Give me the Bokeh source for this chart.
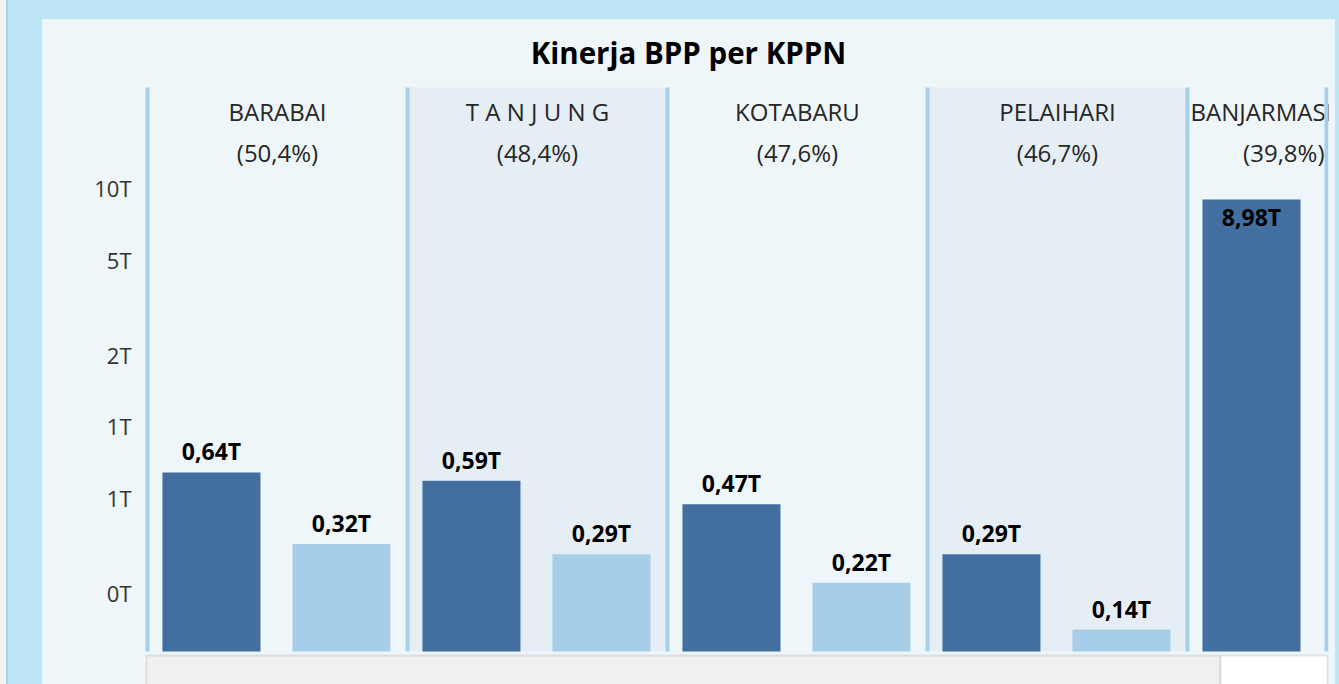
import math
from bokeh.plotting import figure
from bokeh.models import Range1d, FixedTicker, BoxAnnotation, Label, ColumnDataSource
from bokeh.core.properties import value
from bokeh.embed import file_html
from bokeh.resources import INLINE

# ---------------- data ----------------
kppn_names = ["BARABAI", "T A N J U N G", "KOTABARU", "PELAIHARI", "BANJARMASIN"]
kppn_pct = ["(50,4%)", "(48,4%)", "(47,6%)", "(46,7%)", "(39,8%)"]
pagu = [0.64, 0.59, 0.47, 0.29, 8.98]                  # dark bars (T)
realisasi = [0.32, 0.29, 0.22, 0.14, float("nan")]     # light bars (T); last one scrolled out of view
y_ticks = [0.2, 0.5, 1, 2, 5, 10]
y_tick_labels = ["0T", "1T", "1T", "2T", "5T", "10T"]
title_text = "Kinerja BPP per KPPN"

# ---------------- styles ----------------
DARK = "#426fa0"
LIGHT = "#a6cee8"
LINE = "#a6cfe8"
PANEL = "#eef6fa"
ALT = "#e6eef5"
FONT = "Open Sans"

W, H = 1293, 665
X_START, X_END = -0.0115, 4.5423     # pane units (one pane = 260 px)
X_CLIP = 4.5346                      # right edge of the visible (scrolled) area
# log axis: the frame spans the whole figure height; the pane area is between Y_BASE and Y_TOP
Y_START, Y_END = 0.08225, 51.20
Y_BASE, Y_TOP = 0.1132, 26.52

p = figure(width=W, height=H, output_backend="svg", toolbar_location=None,
           y_axis_type="log", x_axis_location=None,
           x_range=Range1d(X_START, X_END), y_range=Range1d(Y_START, Y_END),
           min_border_left=102, min_border_right=7, min_border_top=0, min_border_bottom=0)
p.background_fill_color = None
p.border_fill_color = None
p.styles = {"background-color": PANEL}
p.outline_line_color = None
p.grid.visible = False

ax = p.yaxis[0]
ax.ticker = FixedTicker(ticks=y_ticks)
ax.major_label_overrides = {t: l for t, l in zip(y_ticks, y_tick_labels)}
ax.axis_line_color = None
ax.major_tick_line_color = None
ax.minor_tick_line_color = None
ax.major_tick_out = 0
ax.major_label_standoff = 13
ax.major_label_text_font = FONT
ax.major_label_text_font_size = "22px"
ax.major_label_text_color = "#333333"

n = len(kppn_names)

# alternating pane backgrounds
for k in range(n):
    if k % 2 == 1:
        p.add_layout(BoxAnnotation(left=k, right=k + 1, top=Y_TOP, bottom=Y_BASE,
                                   fill_color=ALT, fill_alpha=1,
                                   line_color=None, level="underlay"))

# bars
src = ColumnDataSource(dict(
    xd=[k + 0.246 for k in range(n)], xl=[k + 0.746 for k in range(n)],
    pagu=pagu, real=realisasi))
p.vbar(x="xd", top="pagu", bottom=Y_BASE, width=0.377, source=src,
       fill_color=DARK, line_color=None)
p.vbar(x="xl", top="real", bottom=Y_BASE, width=0.377, source=src,
       fill_color=LIGHT, line_color=None)

# bar value labels
lx, ly, lt, lo = [], [], [], []
for k in range(n):
    for xo, v in ((0.246, pagu[k]), (0.746, realisasi[k])):
        if isinstance(v, float) and math.isnan(v):
            continue
        lx.append(k + xo)
        ly.append(v)
        lt.append(f"{v:.2f}".replace(".", ",") + "T")
        lo.append(18 if v > 5 else -21)
p.text(x=lx, y=ly, text=lt, y_offset=lo, text_align="center", text_baseline="middle",
       text_font=value(FONT), text_font_style="bold", text_font_size="23px", text_color="#000000")

# pane headers
HDR = dict(text_baseline="middle", text_font=value(FONT), text_font_size="24px",
           text_color="#262626")
for k in range(n):
    if k + 1 <= X_CLIP:
        p.text(x=[k + 0.5], y=[Y_TOP], text=[kppn_names[k]], y_offset=[24],
               text_align="center", **HDR)
        p.text(x=[k + 0.5], y=[Y_TOP], text=[kppn_pct[k]], y_offset=[65],
               text_align="center", **HDR)
    else:
        p.text(x=[k], y=[Y_TOP], text=[kppn_names[k]], x_offset=[3], y_offset=[24],
               text_align="left", **HDR)
        p.text(x=[X_CLIP], y=[Y_TOP], text=[kppn_pct[k]], x_offset=[-2], y_offset=[65],
               text_align="right", **HDR)

# pane separator lines
locs = list(range(n)) + [X_CLIP]
p.segment(x0=locs, x1=locs, y0=[Y_BASE] * len(locs), y1=[Y_TOP] * len(locs),
          line_color=LINE, line_width=4)

# title (screen units are relative to the frame's left / bottom edge)
p.add_layout(Label(x=688 - 144, y=684 - 52, x_units="screen", y_units="screen",
                   text=title_text, text_align="center", text_baseline="middle",
                   text_font=FONT, text_font_style="bold", text_font_size="29.5px",
                   text_color="#000000"))

# horizontal scroll bar below the panes
SB = dict(left_units="screen", right_units="screen", top_units="screen", bottom_units="screen",
          fill_alpha=1, line_color="#aeaeae", line_width=2)
p.add_layout(BoxAnnotation(left=2, right=1076, top=29, bottom=-20, fill_color="#f0f0f0", **SB))
p.add_layout(BoxAnnotation(left=1076, right=1183, top=29, bottom=-20, fill_color="#ffffff", **SB))

html = file_html(p, INLINE)
css = ("<style>html,body{margin:0;padding:0;overflow:hidden;}"
       "body{padding:19px 0 0 42px;"
       "background:linear-gradient(to right,#f4f4f4 0px,#f4f4f4 6px,#a9d1ea 6px,#a9d1ea 8px,#bee5f5 8px);}"
       "</style>")
html = html.replace("</head>", css + "</head>", 1)
open("out.html", "w").write(html)
